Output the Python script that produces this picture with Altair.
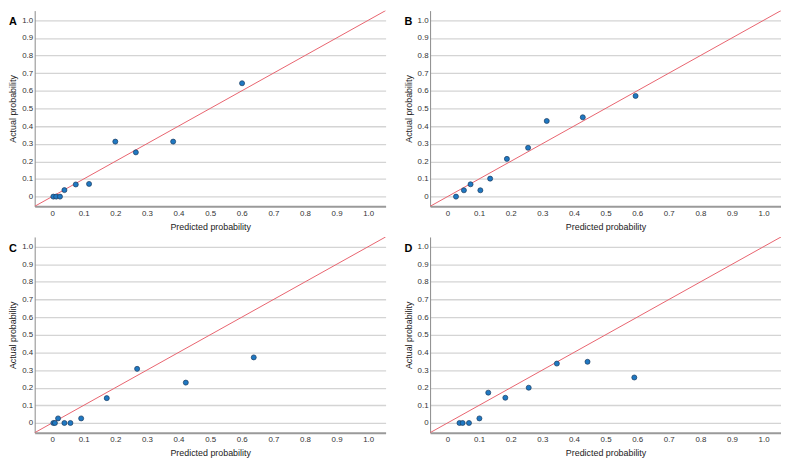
import altair as alt
import pandas as pd

# Panel data (predicted vs actual probability)
a_pred = [0.004, 0.013, 0.025, 0.039, 0.075, 0.117, 0.200, 0.265, 0.383, 0.601]
a_act = [0.0, 0.0, 0.0, 0.037, 0.069, 0.072, 0.312, 0.251, 0.312, 0.643]

b_pred = [0.027, 0.052, 0.073, 0.104, 0.135, 0.188, 0.255, 0.314, 0.428, 0.595]
b_act = [0.0, 0.036, 0.070, 0.036, 0.102, 0.214, 0.277, 0.429, 0.450, 0.571]

c_pred = [0.004, 0.009, 0.019, 0.039, 0.058, 0.092, 0.173, 0.269, 0.423, 0.638]
c_act = [0.0, 0.0, 0.026, 0.0, 0.0, 0.026, 0.141, 0.307, 0.229, 0.372]

d_pred = [0.038, 0.048, 0.068, 0.101, 0.129, 0.183, 0.257, 0.346, 0.443, 0.591]
d_act = [0.0, 0.0, 0.0, 0.026, 0.172, 0.143, 0.200, 0.337, 0.347, 0.258]

tick_values = [0.0, 0.1, 0.2, 0.3, 0.4, 0.5, 0.6, 0.7, 0.8, 0.9, 1.0]
diag = [-0.1, 1.1]
panel_labels = ["A", "B", "C", "D"]

DOMAIN = [-0.055, 1.055]
W, H = 355, 198
FONT = "Liberation Sans"
label_expr = "datum.value == 0 ? '0' : format(datum.value, '.1f')"


def panel(pred, act, label):
    df = pd.DataFrame({"pred": pred, "act": act})
    ddf = pd.DataFrame({"pred": diag, "act": diag})
    xs = alt.Scale(domain=DOMAIN, nice=False, zero=False)
    ys = alt.Scale(domain=DOMAIN, nice=False, zero=False)
    xaxis = alt.Axis(values=tick_values, labelExpr=label_expr, grid=False, ticks=False,
                     labelOverlap=False, labelFlush=False,
                     title="Predicted probability", domainColor="#9a9a9a", domainWidth=2,
                     labelPadding=3, titlePadding=5)
    yaxis = alt.Axis(values=tick_values, labelExpr=label_expr, grid=True, ticks=False,
                     labelOverlap=False, labelFlush=False,
                     title="Actual probability", domainColor="#8a8a8a", domainWidth=1,
                     gridColor="#d4d4d4", gridWidth=1.3, labelPadding=2, titlePadding=4)
    enc_x = alt.X("pred:Q", scale=xs, axis=xaxis)
    enc_y = alt.Y("act:Q", scale=ys, axis=yaxis)
    line = alt.Chart(ddf).mark_line(color="#e8636e", strokeWidth=1, clip=True).encode(
        x=enc_x, y=enc_y)
    pts = alt.Chart(df).mark_point(filled=True, shape="circle", size=26, opacity=1,
                                   color="#1f78c2", stroke="#1d3c5e", strokeWidth=0.7,
                                   clip=True).encode(x=enc_x, y=enc_y)
    txt = alt.Chart(pd.DataFrame({"t": [label]})).mark_text(
        align="left", baseline="middle", fontWeight="bold", fontSize=11,
        font=FONT, color="#000000").encode(
        x=alt.value(-26), y=alt.value(12), text="t:N")
    return alt.layer(line, pts, txt).properties(width=W, height=H)


chart = alt.concat(
    panel(a_pred, a_act, panel_labels[0]),
    panel(b_pred, b_act, panel_labels[1]),
    panel(c_pred, c_act, panel_labels[2]),
    panel(d_pred, d_act, panel_labels[3]),
    columns=2, spacing=alt.RowColnumber(row=6, column=18),
).configure_view(stroke=None).configure_axis(
    labelFont=FONT, titleFont=FONT, labelFontSize=8, titleFontSize=9,
    labelColor="#333333", titleColor="#222222", titleFontWeight="normal",
).properties(padding=0, background="white")

chart.save("out.html", embed_options={"renderer": "svg", "actions": False})
